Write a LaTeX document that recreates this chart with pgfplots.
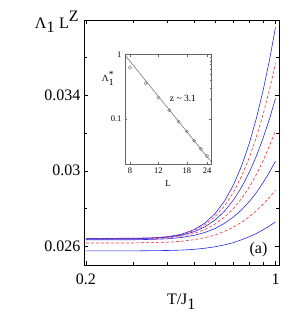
\documentclass[border=0pt]{standalone}
\usepackage{fontspec}
\setmainfont{Liberation Serif}
\usepackage{pgfplots}
\pgfplotsset{compat=1.18}
\definecolor{cblue}{RGB}{40,40,240}
\definecolor{cred}{RGB}{240,50,50}
\begin{document}
\begin{tikzpicture}
\useasboundingbox (-84pt,-49pt) rectangle (223pt,265pt);
\begin{axis}[
  name=main, at={(0,0)}, anchor=south west,
  scale only axis, width=195pt, height=245pt,
  xmode=log, xmin=0.197, xmax=1.03, ymin=0.025, ymax=0.038,
  xtick={0.2,1}, xticklabels={0.2,1},
  minor xtick={0.3,0.4,0.5,0.6,0.7,0.8,0.9},
  ytick={0.026,0.03,0.034}, yticklabels={0.026,0.03,0.034},
  minor ytick={0.028,0.032,0.036},
  scaled y ticks=false,
  tick pos=both, tick align=inside,
  major tick length=4pt, minor tick length=3pt,
  tick style={black, line width=0.5pt},
  axis line style={line width=0.8pt},
  tick label style={font=\fontsize{16}{18}\selectfont},
  xticklabel style={yshift=-5pt},
  /pgf/number format/assume math mode=true,
  xlabel={T/J$_{\textrm{1}}$},
  xlabel style={font=\fontsize{16}{18}\selectfont, yshift=-3pt},
  ylabel={Λ$_{\textrm{1}}$ L$^{\textrm{Z}}$},
  ylabel style={font=\fontsize{16}{18}\selectfont, rotate=-90, at={(axis description cs:0,1)}, anchor=center, xshift=-27pt, yshift=-2pt},
  every axis plot/.append style={line width=0.6pt},
]
% curve 1 (blue)
\addplot[cblue] coordinates {(0.2,0.02641)(0.3,0.02642)(0.35,0.02644)(0.4,0.02650)(0.45,0.02663)(0.5,0.02687)(0.55,0.02723)(0.6,0.02774)(0.65,0.02841)(0.7,0.02925)(0.75,0.03026)(0.8,0.03144)(0.85,0.03278)(0.9,0.03426)(0.95,0.03587)(1.0,0.03761)};
% curve 2 (red dashed)
\addplot[cred, dash pattern=on 3pt off 2pt] coordinates {(0.2,0.02640)(0.3,0.02641)(0.35,0.02643)(0.4,0.02649)(0.45,0.02661)(0.5,0.02682)(0.55,0.02714)(0.6,0.02758)(0.65,0.02815)(0.7,0.02886)(0.75,0.02971)(0.8,0.03068)(0.85,0.03178)(0.9,0.03299)(0.95,0.03430)(1.0,0.03570)};
% curve 3 (blue)
\addplot[cblue] coordinates {(0.2,0.02639)(0.3,0.02640)(0.35,0.02642)(0.4,0.02647)(0.45,0.02658)(0.5,0.02676)(0.55,0.02703)(0.6,0.02740)(0.65,0.02787)(0.7,0.02845)(0.75,0.02913)(0.8,0.02991)(0.85,0.03078)(0.9,0.03173)(0.95,0.03275)(1.0,0.03384)};
% curve 4 (red dashed)
\addplot[cred, dash pattern=on 3pt off 2pt] coordinates {(0.2,0.02637)(0.3,0.02638)(0.35,0.02639)(0.4,0.02644)(0.45,0.02653)(0.5,0.02667)(0.55,0.02689)(0.6,0.02718)(0.65,0.02755)(0.7,0.02800)(0.75,0.02853)(0.8,0.02913)(0.85,0.02980)(0.9,0.03053)(0.95,0.03132)(1.0,0.03215)};
% curve 5 (blue)
\addplot[cblue] coordinates {(0.2,0.02634)(0.3,0.02634)(0.35,0.02636)(0.4,0.02639)(0.45,0.02646)(0.5,0.02657)(0.55,0.02673)(0.6,0.02694)(0.65,0.02722)(0.7,0.02755)(0.75,0.02793)(0.8,0.02836)(0.85,0.02884)(0.9,0.02937)(0.95,0.02993)(1.0,0.03052)};
% curve 6 (red dashed)
\addplot[cred, dash pattern=on 3pt off 2pt] coordinates {(0.2,0.02617)(0.3,0.02617)(0.35,0.02619)(0.4,0.02621)(0.45,0.02626)(0.5,0.02634)(0.55,0.02645)(0.6,0.02660)(0.65,0.02679)(0.7,0.02701)(0.75,0.02727)(0.8,0.02756)(0.85,0.02788)(0.9,0.02822)(0.95,0.02859)(1.0,0.02897)};
% curve 7 (blue)
\addplot[cblue] coordinates {(0.2,0.02575)(0.3,0.02575)(0.35,0.02576)(0.4,0.02577)(0.45,0.02579)(0.5,0.02583)(0.55,0.02589)(0.6,0.02597)(0.65,0.02607)(0.7,0.02619)(0.75,0.02634)(0.8,0.02650)(0.85,0.02667)(0.9,0.02687)(0.95,0.02707)(1.0,0.02729)};
\node[font=\fontsize{16}{18}\selectfont] at (axis description cs:0.895,0.061) {(a)};
\end{axis}
\begin{axis}[
  at={(41pt,101pt)}, anchor=south west,
  scale only axis, width=86pt, height=109.5pt,
  xmode=log, ymode=log,
  xmin=7.45, xmax=25.4, ymin=0.02, ymax=1,
  xtick={8,12,18,24}, xticklabels={8,12,18,24},
  ytick={0.1,1}, yticklabels={0.1,1},
  minor xtick={},
  tick pos=both, tick align=inside,
  major tick length=2.5pt, minor tick length=1.5pt,
  axis line style={gray!80!black, line width=0.5pt},
  tick style={gray!80!black, line width=0.4pt},
  tick label style={font=\fontsize{8.5}{10}\selectfont},
  /pgf/number format/assume math mode=true,
  xlabel={L}, xlabel style={font=\fontsize{9}{10}\selectfont},
  ylabel={Λ$^{\textrm{*}}_{\textrm{1}}$},
  ylabel style={font=\fontsize{9.5}{11}\selectfont, rotate=-90, at={(axis description cs:0,0.785)}, anchor=center, xshift=-17pt},
]
\addplot[gray!80!black, line width=0.5pt] coordinates {(7.45,0.98)(25.4,0.0218)};
\addplot[only marks, mark=o, mark size=1.6pt, gray!80!black, mark options={line width=0.4pt}] coordinates {(8,0.624)(10,0.358)(12,0.214)(14,0.136)(16,0.0908)(18,0.0636)(20,0.0461)(22,0.0343)(24,0.0267)};
\node[font=\fontsize{9.5}{11}\selectfont] at (axis description cs:0.674,0.603) {z \textasciitilde\ 3.1};
\end{axis}
\end{tikzpicture}
\end{document}
